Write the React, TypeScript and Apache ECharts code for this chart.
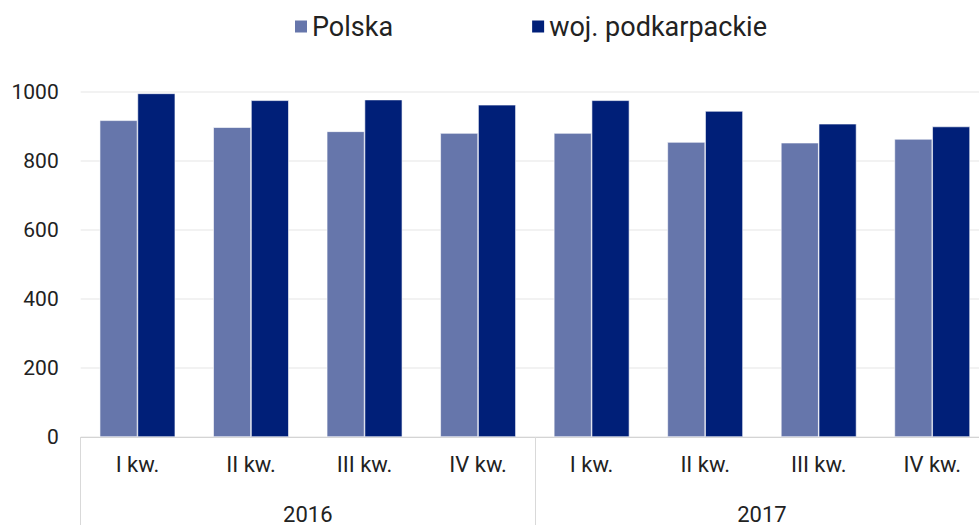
import React, { useEffect, useRef } from "react";
import * as echarts from "echarts";

const quarters = ["I kw.", "II kw.", "III kw.", "IV kw.", "I kw.", "II kw.", "III kw.", "IV kw."];
const years = ["2016", "2017"];
const polska = [918, 898, 886, 881, 881, 855, 853, 864];
const podkarpackie = [996, 976, 978, 963, 976, 945, 908, 900];
const seriesNames = ["Polska", "woj. podkarpackie"];

const FONT = "Roboto, 'Noto Sans', sans-serif";

export default function App() {
  const ref = useRef<HTMLDivElement>(null);
  useEffect(() => {
    if (!ref.current) return;
    const chart = echarts.init(ref.current, undefined, { renderer: "svg" });
    chart.setOption({
      animation: false,
      textStyle: { fontFamily: FONT },
      legend: {
        left: 288,
        top: 8,
        itemWidth: 14,
        itemHeight: 14,
        itemGap: 137,
        icon: "rect",
        textStyle: { fontSize: 27, color: "#222", fontFamily: FONT, padding: [0, 0, 0, -1] },
        data: seriesNames,
      },
      grid: { left: 80.7, right: 0, top: 92, bottom: 87, containLabel: false },
      xAxis: [
        {
          type: "category",
          data: quarters,
          axisLine: { show: true, lineStyle: { color: "#d4d4d4", width: 1 } },
          axisTick: { show: false },
          axisLabel: { fontSize: 22, color: "#222", margin: 16, fontFamily: FONT, interval: 0 },
        },
        {
          type: "category",
          data: years,
          position: "bottom",
          axisLine: { show: false },
          axisTick: { show: true, length: 90, lineStyle: { color: "#d9d9d9", width: 1 } },
          axisLabel: { fontSize: 22, color: "#222", margin: 66, fontFamily: FONT, interval: 0 },
        },
      ],
      yAxis: {
        type: "value",
        min: 0,
        max: 1000,
        interval: 200,
        axisLine: { show: false },
        axisTick: { show: false },
        splitLine: { lineStyle: { color: "#eeeeee", width: 1.5 } },
        axisLabel: {
          fontSize: 21,
          color: "#222",
          margin: 22,
          fontFamily: FONT,
          formatter: (v: number) => String(v),
        },
      },
      series: [
        {
          name: seriesNames[0],
          type: "bar",
          data: polska,
          barWidth: 37.8,
          barGap: "0%",
          itemStyle: { color: "#6676AB", borderColor: "#ffffff", borderWidth: 0.6 },
        },
        {
          name: seriesNames[1],
          type: "bar",
          data: podkarpackie,
          barWidth: 37.8,
          barGap: "0%",
          itemStyle: { color: "#001F78", borderColor: "#ffffff", borderWidth: 0.6 },
        },
      ],
    });
    return () => chart.dispose();
  }, []);
  return (
    <div style={{ width: 979, height: 525, position: "absolute", left: 0, top: 0, overflow: "hidden" }}>
      <div ref={ref} style={{ width: 989, height: 525 }} />
    </div>
  );
}
